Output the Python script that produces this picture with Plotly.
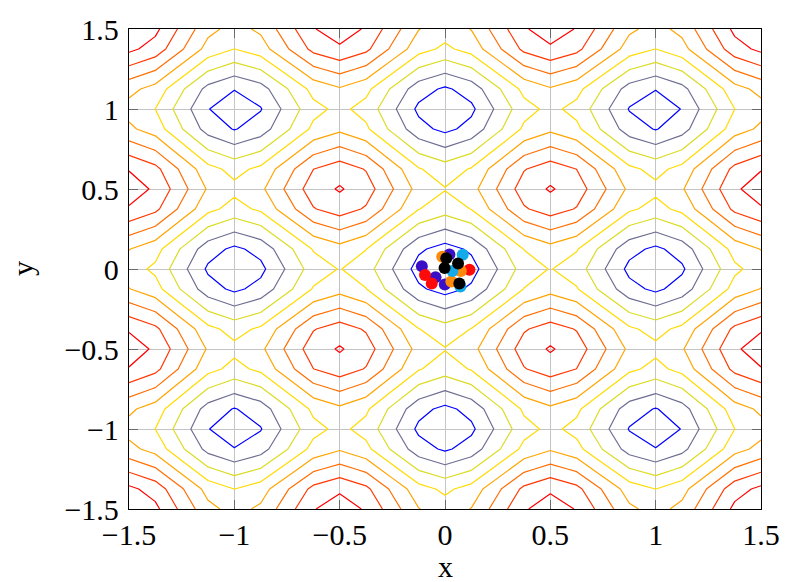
import numpy as np
import plotly.graph_objects as go

# Rastrigin surface sampled on a coarse grid (25 samples per axis)
A = 10.0
domain = (-1.5, 1.5)
samples = 25

# Contour levels
level_start, level_end, level_step = 5, 40, 5

# Line colour map: blue -> yellow -> orange -> red
line_colorscale = [
    [0.0, "rgb(0,0,255)"],
    [1 / 3, "rgb(255,255,0)"],
    [2 / 3, "rgb(255,128,0)"],
    [1.0, "rgb(255,0,0)"],
]

# Swarm positions, one list pair per group
indigo_x = [-0.110, -0.045, -0.001, 0.021]
indigo_y = [0.017, -0.052, -0.097, 0.090]
red_x = [-0.095, -0.063, 0.116]
red_y = [-0.038, -0.090, -0.005]
orange_x = [-0.013, 0.030, 0.075]
orange_y = [0.076, -0.078, -0.012]
cyan_x = [0.084, 0.073, 0.035]
cyan_y = [0.089, -0.110, -0.012]
black_x = [0.006, -0.002, 0.062, 0.068]
black_y = [0.067, 0.006, 0.034, -0.090]

groups = [
    (indigo_x, indigo_y, "#3a0fc8"),
    (red_x, red_y, "#ff0a0a"),
    (orange_x, orange_y, "#ff8a0a"),
    (cyan_x, cyan_y, "#12aae8"),
    (black_x, black_y, "#000000"),
]

tick_vals = [-1.5, -1.0, -0.5, 0.0, 0.5, 1.0, 1.5]
tick_text = ["\u22121.5", "\u22121", "\u22120.5", "0", "0.5", "1", "1.5"]

grid = np.linspace(domain[0], domain[1], samples)
X, Y = np.meshgrid(grid, grid)
Z = 2 * A + X**2 + Y**2 - A * np.cos(2 * np.pi * X) - A * np.cos(2 * np.pi * Y)

fig = go.Figure()
fig.add_trace(
    go.Contour(
        x=grid,
        y=grid,
        z=Z,
        contours=dict(start=level_start, end=level_end, size=level_step, coloring="lines"),
        colorscale=line_colorscale,
        line=dict(width=1.2, smoothing=0),
        showscale=False,
        hoverinfo="skip",
    )
)

for gx, gy, col in groups:
    fig.add_trace(
        go.Scatter(
            x=gx,
            y=gy,
            mode="markers",
            marker=dict(size=12, color=col, line=dict(width=0)),
            showlegend=False,
        )
    )

font_family = "Liberation Serif, Times New Roman, serif"
axis_common = dict(
    range=[-1.5, 1.5],
    tickvals=tick_vals,
    ticktext=tick_text,
    showgrid=True,
    gridcolor="#c4c4c4",
    gridwidth=1,
    zeroline=False,
    showline=True,
    linecolor="#000000",
    linewidth=1.3,
    mirror="ticks",
    ticks="inside",
    ticklen=9,
    tickwidth=1.3,
    tickcolor="#6a6a6a",
    tickfont=dict(family=font_family, size=30, color="#000000"),
)

fig.update_layout(
    width=792,
    height=582,
    margin=dict(l=129, r=23, t=23, b=73),
    paper_bgcolor="white",
    plot_bgcolor="white",
    showlegend=False,
    xaxis=dict(**axis_common, ticklabelstandoff=-1),
    yaxis=dict(**axis_common, ticklabelstandoff=3),
    annotations=[
        dict(
            text="x", xref="paper", yref="paper", x=0.5, y=0,
            xanchor="center", yanchor="middle", yshift=-57, showarrow=False,
            font=dict(family=font_family, size=30, color="#000000"),
        ),
        dict(
            text="y", xref="paper", yref="paper", x=0, y=0.5,
            xanchor="center", yanchor="middle", xshift=-107, textangle=-90,
            showarrow=False,
            font=dict(family=font_family, size=30, color="#000000"),
        ),
    ],
)

fig.write_html("out.html")
